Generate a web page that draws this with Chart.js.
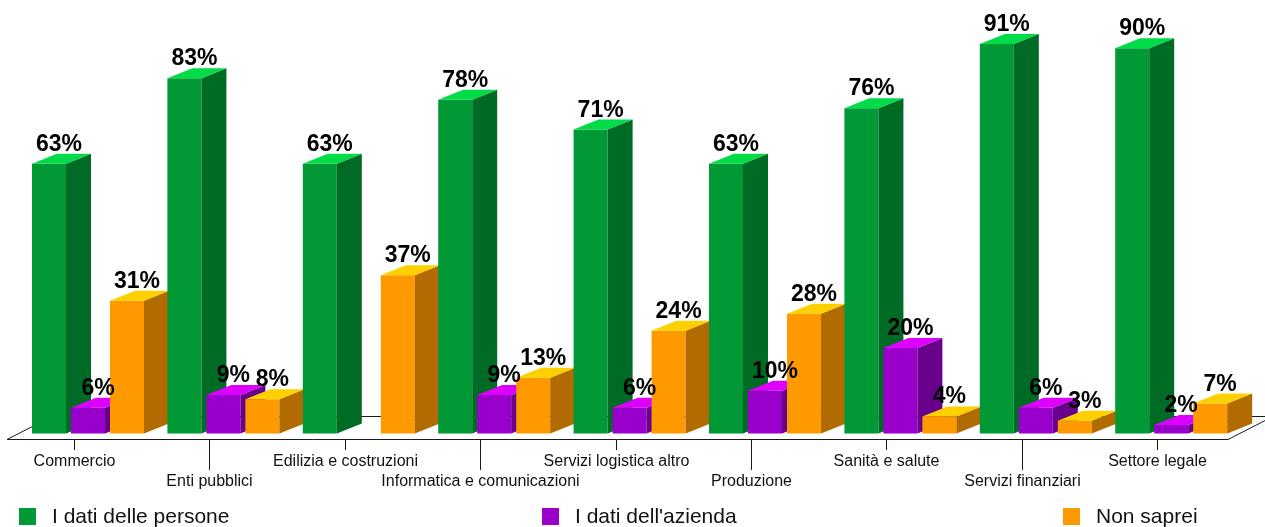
<!DOCTYPE html>
<html lang="it">
<head>
<meta charset="utf-8">
<title>Grafico a barre 3D</title>
<script src="https://cdn.jsdelivr.net/npm/chart.js@4.4.1/dist/chart.umd.min.js"></script>
<style>
  html, body { margin: 0; padding: 0; background: #fff; }
  #wrap { position: relative; width: 1265px; height: 527px; }
</style>
</head>
<body>
<div id="wrap"><canvas id="sectorChart"></canvas></div>
<script>
const categories = [
  'Commercio', 'Enti pubblici', 'Edilizia e costruzioni',
  'Informatica e comunicazioni', 'Servizi logistica altro', 'Produzione',
  'Sanità e salute', 'Servizi finanziari', 'Settore legale'
];
const seriesNames = ['I dati delle persone', "I dati dell'azienda", 'Non saprei'];
const personData = [63, 83, 63, 78, 71, 63, 76, 91, 90];
const companyData = [6, 9, null, 9, 6, 10, 20, 6, 2];
const unsureData = [31, 8, 37, 13, 24, 28, 4, 3, 7];

// front / side / top shades for each series
const palette = [
  { front: '#009935', side: '#006b24', top: '#00dc48' },
  { front: '#9900cc', side: '#68008c', top: '#de00ff' },
  { front: '#ff9900', side: '#b26b00', top: '#ffd000' }
];

const DEPTH_X = 25;
const DEPTH_Y = 10;

function poly(ctx, pts, color) {
  ctx.beginPath();
  ctx.moveTo(pts[0][0], pts[0][1]);
  for (let i = 1; i < pts.length; i++) ctx.lineTo(pts[i][0], pts[i][1]);
  ctx.closePath();
  ctx.fillStyle = color;
  ctx.fill();
}

const bars3d = {
  id: 'bars3d',
  beforeDatasetsDraw(chart) {
    const ctx = chart.ctx;
    const yScale = chart.scales.y;
    const xScale = chart.scales.x;
    const base = yScale.getPixelForValue(0);

    // floor
    const fy = base + 5.5, by = base - 17.5;
    const fl = 7, fr = 1228, depth = 45;
    ctx.save();
    ctx.strokeStyle = '#1a1a1a';
    ctx.lineWidth = 1;
    ctx.beginPath();
    ctx.moveTo(fl, fy + 0.5);
    ctx.lineTo(fr, fy + 0.5);
    ctx.lineTo(fr + depth, by + 0.5);
    ctx.lineTo(fl + depth, by + 0.5);
    ctx.closePath();
    ctx.stroke();

    // category ticks and labels on the front edge of the floor
    ctx.font = '16px "Liberation Sans", Arial, sans-serif';
    ctx.fillStyle = '#111';
    ctx.textAlign = 'center';
    ctx.textBaseline = 'middle';
    categories.forEach((name, i) => {
      const tx = Math.round(xScale.getPixelForValue(i) - 14) + 0.5;
      const low = i % 2 === 1;
      ctx.beginPath();
      ctx.moveTo(tx, fy);
      ctx.lineTo(tx, fy + (low ? 31 : 11));
      ctx.stroke();
      ctx.fillText(name, tx, fy + (low ? 43 : 23));
    });

    // bars, drawn category by category so nearer faces cover the sides
    const metas = chart.data.datasets.map((_, d) => chart.getDatasetMeta(d));
    for (let i = 0; i < categories.length; i++) {
      metas.forEach((meta, d) => {
        const v = chart.data.datasets[d].data[i];
        if (v === null || v === undefined) return;
        const el = meta.data[i];
        const p = el.getProps(['x', 'y', 'base', 'width'], true);
        const x0 = p.x - p.width / 2, x1 = p.x + p.width / 2;
        const c = palette[d];
        poly(ctx, [[x0, p.y], [x1, p.y], [x1, p.base], [x0, p.base]], c.front);
        poly(ctx, [[x1, p.y], [x1 + DEPTH_X, p.y - DEPTH_Y], [x1 + DEPTH_X, p.base - DEPTH_Y], [x1, p.base]], c.side);
        poly(ctx, [[x0, p.y], [x0 + DEPTH_X, p.y - DEPTH_Y], [x1 + DEPTH_X, p.y - DEPTH_Y], [x1, p.y]], c.top);
      });
      // value labels
      metas.forEach((meta, d) => {
        const v = chart.data.datasets[d].data[i];
        if (v === null || v === undefined) return;
        const p = meta.data[i].getProps(['x', 'y'], true);
        ctx.font = 'bold 23px "Liberation Sans", Arial, sans-serif';
        ctx.fillStyle = '#000';
        ctx.textAlign = 'center';
        ctx.textBaseline = 'alphabetic';
        ctx.fillText(v + '%', p.x + 10, p.y - DEPTH_Y - 3);
      });
    }
    ctx.restore();
    return false;
  },
  afterDraw(chart) {
    const ctx = chart.ctx;
    const slots = [19, 542, 1063];
    ctx.save();
    ctx.font = '21px "Liberation Sans", Arial, sans-serif';
    ctx.textBaseline = 'middle';
    ctx.textAlign = 'left';
    chart.data.datasets.forEach((ds, d) => {
      ctx.fillStyle = palette[d].front;
      ctx.fillRect(slots[d], 508, 17, 17);
      ctx.fillStyle = '#111';
      ctx.fillText(ds.label, slots[d] + 33, 517);
    });
    ctx.restore();
  }
};

new Chart(document.getElementById('sectorChart'), {
  type: 'bar',
  data: {
    labels: categories,
    datasets: [
      { label: seriesNames[0], data: personData, backgroundColor: palette[0].front },
      { label: seriesNames[1], data: companyData, backgroundColor: palette[1].front },
      { label: seriesNames[2], data: unsureData, backgroundColor: palette[2].front }
    ]
  },
  options: {
    responsive: true,
    maintainAspectRatio: false,
    animation: false,
    layout: { padding: { left: 20.3, right: 26.1, top: 5.5, bottom: 93.5 } },
    datasets: { bar: { categoryPercentage: 0.864, barPercentage: 0.872 } },
    plugins: { legend: { display: false }, tooltip: { enabled: false } },
    scales: {
      x: { display: false },
      y: { display: false, min: 0, max: 100 }
    }
  },
  plugins: [bars3d]
});
</script>
</body>
</html>
